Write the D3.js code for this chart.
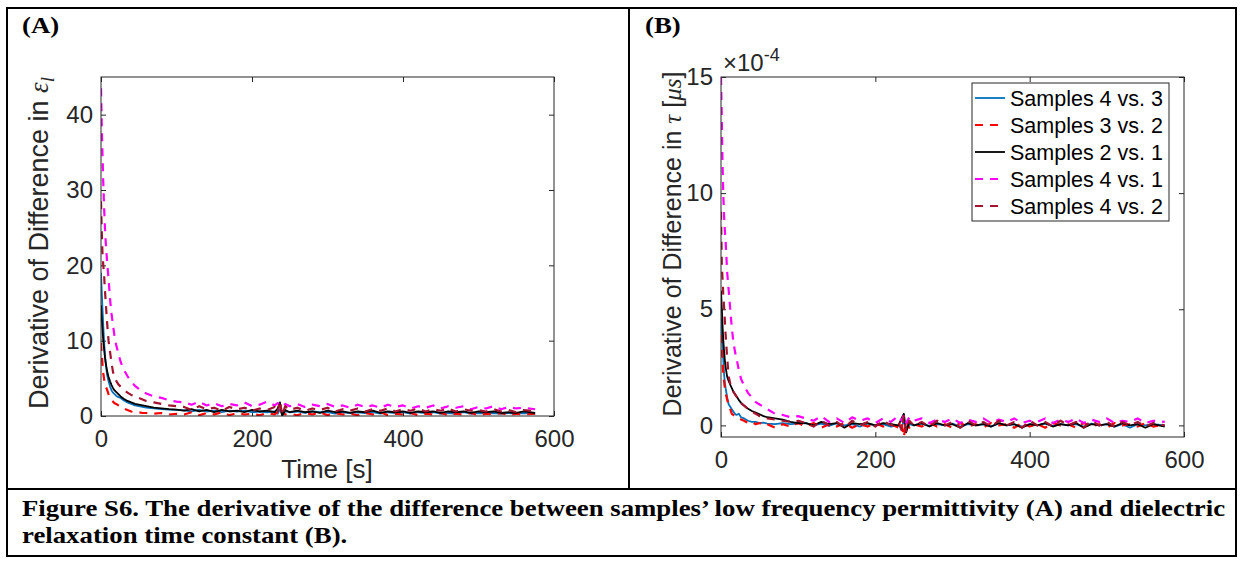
<!DOCTYPE html>
<html>
<head>
<meta charset="utf-8">
<script src="https://cdn.jsdelivr.net/npm/d3@7"></script>
<style>
  body { margin: 0; background: #fff; }
  svg { display: block; }
  .axis text { font-family: 'Liberation Sans', Arial, sans-serif; font-size: 24px; fill: #262626; }
  .axis line { stroke: #262626; }
  .axis path { display: none; }
</style>
</head>
<body>
<svg id="fig" width="1243" height="561"></svg>
<script>
//======= start data =======//
let time = [0, 1, 2, 3, 4, 5, 6, 8, 10, 12, 14, 16, 18, 20, 23, 26, 30, 35, 40, 45, 50, 55, 60, 70, 80, 90,
  100, 110, 120, 130, 140, 150, 160, 170, 180, 190, 200, 210, 220, 230, 234, 237, 240, 244,
  250, 260, 270, 280, 290, 300, 310, 320, 330, 340, 350, 360, 370, 380, 390, 400, 410, 420,
  430, 440, 450, 460, 470, 480, 490, 500, 510, 520, 530, 540, 550, 560, 575];

let seriesLabels = ['Samples 4 vs. 3', 'Samples 3 vs. 2', 'Samples 2 vs. 1', 'Samples 4 vs. 1', 'Samples 4 vs. 2'];

// panel A : derivative of difference in eps_l
let eps43 = [19, 16.5, 14.2, 12, 10, 8.5, 7.3, 5.5, 4.6, 3.9, 3.4, 3.1, 2.9, 2.7, 2.5, 2.4, 2.1, 1.8, 1.6, 1.4, 1.3, 1.2, 1.1, 1.0, 0.9, 0.85,
  0.8, 0.75, 0.6, 0.8, 0.6, 0.7, 0.5, 0.7, 0.6, 0.7, 0.5, 0.6, 0.5, 0.6, 0.3, 0.9, 0.2, 0.6,
  0.5, 0.6, 0.4, 0.6, 0.5, 0.5, 0.3, 0.5, 0.4, 0.5, 0.4, 0.5, 0.3, 0.5, 0.4, 0.5, 0.3, 0.5,
  0.4, 0.5, 0.3, 0.4, 0.3, 0.5, 0.3, 0.4, 0.3, 0.4, 0.3, 0.4, 0.3, 0.4, 0.3];
let eps32 = [9.7, 8.2, 6.8, 5.7, 5.0, 4.4, 4.0, 3.5, 2.9, 2.4, 2.1, 1.9, 1.7, 1.6, 1.4, 1.2, 1.0, 0.8, 0.6, 0.5, 0.5, 0.4, 0.4, 0.3, 0.4, 0.2,
  0.3, 0.2, 0.5, 0.1, 0.4, 0.2, 0.5, 0.1, 0.4, 0.2, 0.3, 0.1, 0.4, 0.2, 0.5, 0.0, 0.6, 0.2,
  0.3, 0.1, 0.4, 0.2, 0.5, 0.1, 0.4, 0.2, 0.3, 0.1, 0.4, 0.2, 0.5, 0.1, 0.3, 0.2, 0.4, 0.1,
  0.3, 0.2, 0.4, 0.1, 0.3, 0.2, 0.4, 0.1, 0.3, 0.2, 0.4, 0.1, 0.3, 0.2, 0.3];
let eps21 = [14.7, 13, 11.5, 10, 9, 8, 7.2, 6, 5.2, 4.6, 4.1, 3.7, 3.4, 3.2, 2.9, 2.6, 2.3, 2.0, 1.8, 1.6, 1.5, 1.4, 1.3, 1.1, 1.0, 0.9,
  0.85, 0.7, 0.9, 0.6, 0.8, 0.5, 0.8, 0.6, 0.7, 0.5, 0.8, 0.6, 0.7, 0.5, 1.0, 1.8, 0.0, 0.8,
  0.5, 0.7, 0.5, 0.6, 0.4, 0.7, 0.5, 0.6, 0.4, 0.6, 0.5, 0.7, 0.4, 0.6, 0.5, 0.6, 0.4, 0.6,
  0.5, 0.6, 0.4, 0.6, 0.5, 0.6, 0.4, 0.6, 0.5, 0.6, 0.4, 0.5, 0.4, 0.6, 0.4];
let eps41 = [43.5, 38.5, 34.5, 31, 28, 25.5, 23.5, 20.5, 18.2, 15.5, 13.5, 12, 10.5, 9.5, 8.3, 7.2, 6.2, 5.3, 4.6, 4.0, 3.6, 3.2, 3.0, 2.6, 2.4, 2.1,
  1.9, 1.8, 1.5, 1.9, 1.4, 1.7, 1.3, 1.6, 1.4, 1.8, 1.3, 1.5, 1.9, 1.4, 1.7, 1.5, 1.2, 1.6,
  1.3, 1.6, 1.2, 1.5, 1.3, 1.6, 1.2, 1.4, 1.1, 1.5, 1.2, 1.4, 1.1, 1.5, 1.2, 1.4, 1.0, 1.3,
  1.1, 1.4, 1.0, 1.3, 1.1, 1.3, 0.9, 1.2, 1.0, 1.3, 0.9, 1.2, 1.0, 1.1, 0.9];
let eps42 = [28.5, 24.5, 21.5, 20, 19, 17, 15.5, 12.5, 10, 8.5, 7, 5.8, 5.2, 4.7, 4.2, 3.9, 3.5, 3.1, 2.8, 2.6, 2.4, 2.2, 2.0, 1.8, 1.6, 1.4,
  1.3, 1.2, 0.8, 1.3, 0.9, 1.1, 0.7, 1.2, 0.9, 1.1, 0.7, 1.0, 0.8, 1.2, 0.4, 2.0, 0.1, 1.3,
  0.8, 1.1, 0.7, 1.0, 0.8, 1.1, 0.6, 0.9, 0.7, 1.0, 0.6, 0.9, 0.7, 1.0, 0.6, 0.9, 0.7, 1.0,
  0.6, 0.9, 0.7, 1.0, 0.6, 0.9, 0.7, 0.8, 0.6, 0.9, 0.6, 0.8, 0.5, 0.8, 0.6];

// panel B : derivative of difference in tau, in units of 1e-4 us
let tau43 = [4.6, 4.0, 3.4, 2.8, 2.2, 1.85, 1.6, 1.2, 0.9, 0.8, 0.7, 0.6, 0.5, 0.45, 0.5, 0.35, 0.3, 0.2, 0.15, 0.15, 0.1, 0.12, 0.08, 0.05, 0.1, 0.05,
  0.08, 0.1, 0.0, 0.08, -0.02, 0.1, 0.0, 0.05, -0.05, 0.08, 0.0, 0.05, -0.05, 0.0, -0.1, 0.2, -0.15, 0.05,
  0.0, 0.08, -0.02, 0.05, 0.0, 0.08, -0.05, 0.05, 0.0, 0.05, -0.05, 0.08, 0.0, 0.05, -0.05, 0.05, 0.0, 0.08,
  -0.02, 0.05, 0.0, 0.05, -0.05, 0.08, 0.0, 0.05, -0.05, 0.05, -0.1, 0.05, 0.0, 0.05, 0.0];
let tau32 = [3.9, 3.3, 2.7, 2.2, 1.9, 1.6, 1.4, 1.1, 0.9, 0.7, 0.5, 0.45, 0.4, 0.35, 0.3, 0.25, 0.2, 0.1, 0.15, 0.05, 0.1, 0.0, 0.05, -0.1, 0.05, -0.05,
  0.1, -0.05, 0.1, -0.1, 0.05, -0.05, 0.1, -0.1, 0.05, -0.05, 0.1, -0.05, 0.05, -0.1, 0.1, -0.5, 0.2, -0.1,
  0.05, -0.05, 0.1, -0.05, 0.05, -0.1, 0.1, -0.05, 0.05, -0.1, 0.1, 0.0, 0.05, -0.1, 0.1, -0.05, 0.05, -0.1,
  0.1, 0.0, 0.05, -0.1, 0.1, -0.05, 0.05, -0.1, 0.1, 0.0, 0.05, -0.05, 0.1, -0.05, 0.05];
let tau21 = [5.8, 5.1, 4.3, 3.65, 3.2, 2.8, 2.5, 2.1, 1.9, 1.75, 1.6, 1.45, 1.35, 1.25, 1.1, 0.97, 0.85, 0.72, 0.62, 0.55, 0.48, 0.4, 0.35, 0.3, 0.25, 0.15,
  0.1, 0.1, 0.0, 0.15, 0.05, 0.1, -0.1, 0.1, 0.05, 0.1, 0.0, 0.1, 0.05, 0.0, 0.3, 0.5, -0.3, 0.15,
  0.0, 0.1, -0.05, 0.1, 0.0, 0.05, -0.1, 0.1, 0.0, 0.05, -0.05, 0.1, 0.0, 0.05, -0.1, 0.05, 0.0, 0.1,
  -0.05, 0.05, 0.0, 0.1, -0.1, 0.05, 0.0, 0.05, -0.05, 0.1, 0.0, 0.05, -0.1, 0.05, -0.05];
let tau41 = [15, 13.2, 11.2, 9.9, 9.0, 8.4, 7.9, 6.6, 5.8, 5.0, 4.2, 3.6, 3.2, 2.9, 2.4, 2.0, 1.7, 1.4, 1.2, 1.0, 0.9, 0.8, 0.7, 0.5, 0.45, 0.35,
  0.4, 0.3, 0.2, 0.4, 0.15, 0.3, 0.1, 0.35, 0.2, 0.3, 0.1, 0.3, 0.15, 0.4, 0.2, 0.45, 0.1, 0.35,
  0.2, 0.3, 0.1, 0.25, 0.15, 0.3, 0.1, 0.25, 0.15, 0.3, 0.1, 0.25, 0.15, 0.3, 0.1, 0.2, 0.15, 0.3,
  0.1, 0.25, 0.15, 0.3, 0.1, 0.25, 0.15, 0.3, 0.1, 0.2, 0.15, 0.3, 0.1, 0.2, 0.15];
let tau42 = [9.2, 7.0, 6.3, 5.6, 5.1, 4.5, 3.9, 2.9, 2.1, 1.8, 1.6, 1.45, 1.35, 1.25, 1.1, 0.95, 0.85, 0.7, 0.6, 0.5, 0.4, 0.35, 0.3, 0.25, 0.2, 0.15,
  0.2, 0.1, -0.05, 0.2, 0.0, 0.15, -0.1, 0.2, 0.0, 0.15, -0.05, 0.2, 0.0, 0.15, -0.2, 0.4, -0.25, 0.2,
  0.0, 0.15, -0.05, 0.2, 0.0, 0.15, -0.1, 0.2, 0.0, 0.15, -0.05, 0.2, 0.0, 0.15, -0.1, 0.2, 0.0, 0.15,
  -0.05, 0.2, 0.0, 0.15, -0.1, 0.2, 0.0, 0.15, -0.05, 0.15, 0.0, 0.15, -0.05, 0.1, 0.0];

let timeTicks = [0, 200, 400, 600];
let epsTicks = [0, 10, 20, 30, 40];
let tauTicks = [0, 5, 10, 15];
//======= end data =======//

let colors = ['#0072BD', '#FF0000', '#000000', '#FF00FF', '#A2142F'];
let dashes = [null, '8,7', null, '8,7', '8,7'];
let widths = [1.8, 2.2, 1.8, 2.2, 2.2];
let font = "'Liberation Sans', Arial, sans-serif";
let serif = "'Liberation Serif', 'Times New Roman', serif";
let serifStretch = 1.165;

let svg = d3.select('#fig');

//======= start frame (table borders) =======//
let frame = svg.append('g').attr('fill', 'none').attr('stroke', '#000').attr('stroke-width', 2);
frame.append('rect').attr('x', 7).attr('y', 8).attr('width', 1229).attr('height', 548);
frame.append('line').attr('x1', 629).attr('x2', 629).attr('y1', 8).attr('y2', 489);
frame.append('line').attr('x1', 7).attr('x2', 1236).attr('y1', 489).attr('y2', 489);

function serifText(x, y, str) {
  return svg.append('text')
    .attr('transform', 'translate(' + x + ',' + y + ') scale(' + serifStretch + ',1)')
    .style('font-family', serif).style('font-weight', 'bold').style('font-size', '23px')
    .text(str);
}

serifText(22, 33, '(A)');
serifText(645, 33, '(B)');
serifText(22, 516, 'Figure S6. The derivative of the difference between samples\u2019 low frequency permittivity (A) and dielectric');
serifText(22, 543, 'relaxation time constant (B).');
//======= end frame =======//

//======= start panel drawing =======//
function drawPanel(p) {
  let x = d3.scaleLinear().domain([0, 600]).range([p.left, p.right]);
  let y = d3.scaleLinear().domain(p.yDomain).range([p.bottom, p.top]);
  let g = svg.append('g');

  let clipId = 'clip-' + p.id;
  g.append('clipPath').attr('id', clipId)
    .append('rect')
    .attr('x', p.left).attr('y', p.top)
    .attr('width', p.right - p.left).attr('height', p.bottom - p.top);

  g.append('g').attr('class', 'axis')
    .attr('transform', 'translate(0,' + p.bottom + ')')
    .call(d3.axisBottom(x).tickValues(timeTicks).tickSizeInner(-5).tickSizeOuter(0).tickPadding(14));
  g.append('g').attr('class', 'axis')
    .attr('transform', 'translate(0,' + p.top + ')')
    .call(d3.axisTop(x).tickValues(timeTicks).tickSizeInner(-5).tickSizeOuter(0).tickFormat(''));
  g.append('g').attr('class', 'axis')
    .attr('transform', 'translate(' + p.left + ',0)')
    .call(d3.axisLeft(y).tickValues(p.yTicks).tickSizeInner(-5).tickSizeOuter(0).tickPadding(8));
  g.append('g').attr('class', 'axis')
    .attr('transform', 'translate(' + p.right + ',0)')
    .call(d3.axisRight(y).tickValues(p.yTicks).tickSizeInner(-5).tickSizeOuter(0).tickFormat(''));

  let lines = g.append('g').attr('clip-path', 'url(#' + clipId + ')');
  p.series.forEach(function (values, i) {
    let line = d3.line()
      .x(function (d, j) { return x(time[j]); })
      .y(function (d) { return y(d); });
    lines.append('path')
      .datum(values)
      .attr('fill', 'none')
      .attr('stroke', colors[i])
      .attr('stroke-width', widths[i])
      .attr('stroke-dasharray', dashes[i])
      .attr('stroke-linejoin', 'round')
      .attr('d', line);
  });

  g.append('rect')
    .attr('x', p.left).attr('y', p.top)
    .attr('width', p.right - p.left).attr('height', p.bottom - p.top)
    .attr('fill', 'none').attr('stroke', '#262626').attr('stroke-width', 1);

  return { x: x, y: y, g: g };
}

let panelA = drawPanel({
  id: 'a', left: 101, right: 554, top: 77, bottom: 416,
  yDomain: [0, 45], yTicks: epsTicks,
  series: [eps43, eps32, eps21, eps41, eps42]
});

let panelB = drawPanel({
  id: 'b', left: 721, right: 1184, top: 77, bottom: 437,
  yDomain: [-0.5, 15], yTicks: tauTicks,
  series: [tau43, tau32, tau21, tau41, tau42]
});
//======= end panel drawing =======//

//======= start labels =======//
panelA.g.append('text')
  .attr('x', 327).attr('y', 478)
  .attr('text-anchor', 'middle')
  .style('font-family', font).style('font-size', '26px').style('fill', '#262626')
  .text('Time [s]');

let yLabA = panelA.g.append('text')
  .attr('transform', 'translate(48,243) rotate(-90)')
  .attr('text-anchor', 'middle')
  .style('font-family', font).style('font-size', '27px').style('fill', '#262626');
yLabA.append('tspan').text('Derivative of Difference in ');
yLabA.append('tspan').style('font-family', serif).style('font-style', 'italic').text('\u03B5');
yLabA.append('tspan').attr('dy', 6).style('font-size', '19px').style('font-family', serif).style('font-style', 'italic').text('l');

let yLabB = panelB.g.append('text')
  .attr('transform', 'translate(681,244) rotate(-90)')
  .attr('text-anchor', 'middle')
  .style('font-family', font).style('font-size', '25px').style('fill', '#262626');
yLabB.append('tspan').text('Derivative of Difference in ');
yLabB.append('tspan').style('font-family', serif).style('font-style', 'italic').text('\u03C4');
yLabB.append('tspan').text(' [');
yLabB.append('tspan').style('font-family', serif).style('font-style', 'italic').text('\u03BCs');
yLabB.append('tspan').text(']');

let expo = panelB.g.append('text')
  .attr('x', 723).attr('y', 71)
  .style('font-family', font).style('font-size', '24px').style('fill', '#262626');
expo.append('tspan').text('\u00D710');
expo.append('tspan').attr('dy', -10).style('font-size', '18px').text('-4');
//======= end labels =======//

//======= start legend =======//
let legend = panelB.g.append('g');
legend.append('rect')
  .attr('x', 972).attr('y', 83).attr('width', 197).attr('height', 138)
  .attr('fill', '#fff').attr('stroke', '#262626').attr('stroke-width', 1);

let legendRow = d3.scalePoint().domain(seriesLabels).range([98, 206]);

seriesLabels.forEach(function (label, i) {
  let ly = legendRow(label);
  legend.append('line')
    .attr('x1', 975).attr('x2', 1005).attr('y1', ly).attr('y2', ly)
    .attr('stroke', colors[i])
    .attr('stroke-width', widths[i])
    .attr('stroke-dasharray', dashes[i]);
  legend.append('text')
    .attr('x', 1010).attr('y', ly + 8)
    .style('font-family', font).style('font-size', '21.5px').style('fill', '#000')
    .text(label);
});
//======= end legend =======//
</script>
</body>
</html>
